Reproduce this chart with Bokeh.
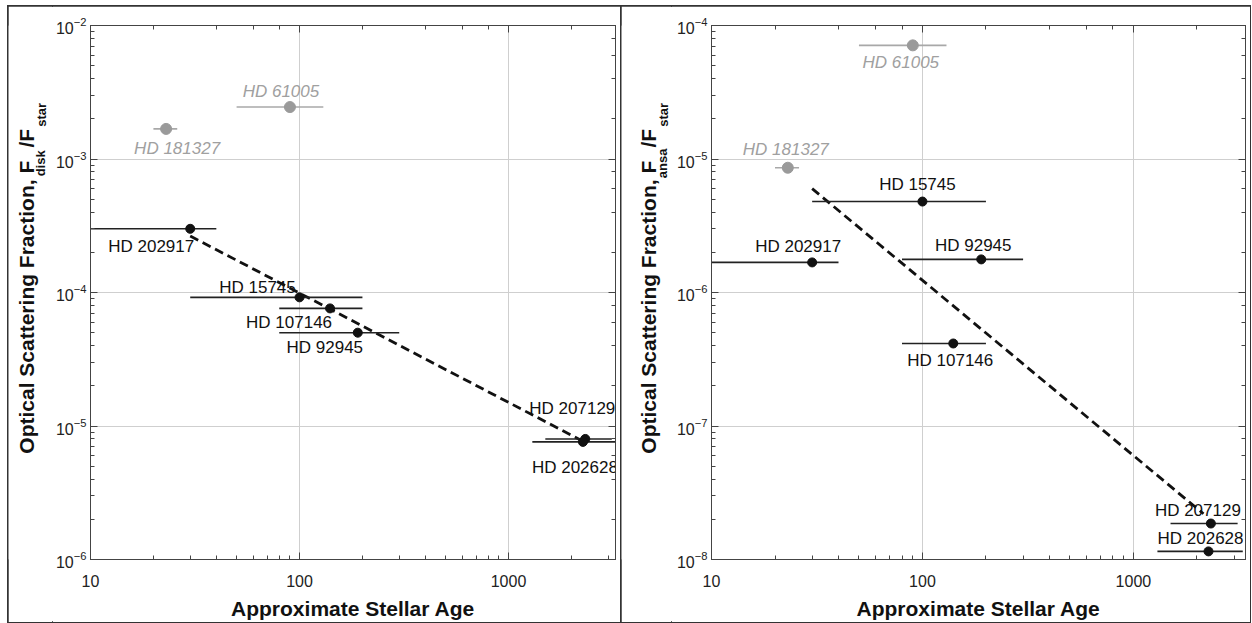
import math
from bokeh.plotting import figure
from bokeh.models import (ColumnDataSource, LogAxis, Range1d,
                          NumeralTickFormatter, CustomJSTickFormatter)
from bokeh.layouts import row
from bokeh.embed import file_html
from bokeh.resources import INLINE
from bokeh.core.properties import value

# ---------------- data ----------------
names = ["HD 181327", "HD 61005", "HD 202917", "HD 15745",
         "HD 107146", "HD 92945", "HD 207129", "HD 202628"]
age = [23, 90, 30, 100, 140, 190, 2330, 2270]
age_lo = [20, 50, 10, 30, 80, 80, 1500, 1300]
age_hi = [26, 130, 40, 200, 200, 300, 3120, 3300]
f_disk = [1.68e-3, 2.45e-3, 3.0e-4, 9.2e-5, 7.6e-5, 5.0e-5, 8.0e-6, 7.6e-6]
f_ansa = [8.6e-6, 7.1e-5, 1.68e-6, 4.8e-6, 4.15e-7, 1.77e-6, 1.86e-8, 1.15e-8]
excluded = [True, True, False, False, False, False, False, False]

fit_age_disk = [30, 2300]
fit_disk = [2.65e-4, 7.6e-6]
fit_age_ansa = [30, 2150]
fit_ansa = [6.0e-6, 2.2e-8]

x_title = "Approximate Stellar Age"

# ---------------- layout (label offsets in px) ----------------
off_disk = {
    "HD 181327": (11, 20), "HD 61005": (-9, -16), "HD 202917": (-39, 18),
    "HD 15745": (-42, -10), "HD 107146": (-41, 14), "HD 92945": (-33, 15),
    "HD 207129": (-13, -30), "HD 202628": (-8, 26),
}
off_ansa = {
    "HD 181327": (-2, -18), "HD 61005": (-12, 17), "HD 202917": (-14, -16),
    "HD 15745": (-5, -17), "HD 107146": (-3, 17), "HD 92945": (-8, -14),
    "HD 207129": (-13, -13), "HD 202628": (-8, -13),
}

FONT = value("Liberation Sans")
H = 616


def style_axis(ax, show_labels=True):
    ax.axis_line_color = "#444"
    ax.axis_line_width = 1
    ax.major_tick_in = 7
    ax.major_tick_out = 0
    ax.minor_tick_in = 4
    ax.minor_tick_out = 0
    ax.major_tick_line_color = "#444"
    ax.minor_tick_line_color = "#444"
    ax.major_label_text_font = "Liberation Sans"
    ax.major_label_text_color = "#222"
    if show_labels:
        ax.major_label_text_font_size = "16px"
    else:
        ax.formatter = CustomJSTickFormatter(code="return ''")
        ax.major_label_text_font_size = "1px"
        ax.major_label_text_alpha = 0
        ax.major_label_standoff = 0


def title_strip(sub, tw, frame_left):
    t = figure(width=tw, height=H, x_range=Range1d(0, tw), y_range=Range1d(0, H),
               output_backend="svg", toolbar_location=None,
               x_axis_location=None, y_axis_location=None,
               min_border=0, min_border_left=0, min_border_right=0,
               min_border_top=0, min_border_bottom=0,
               background_fill_color="white", border_fill_color="white")
    t.outline_line_color = None
    t.grid.grid_line_color = None
    # (text, font px, centre offset from plot frame's left edge, centre height)
    pieces = [
        ("Optical Scattering Fraction, F", 21, -63, 291),
        (sub, 13, -49, 457),
        ("/F", 21, -63, 486),
        ("star", 13, -48, 513),
    ]
    for txt, fs, dx, yc in pieces:
        t.text(x=[frame_left + dx], y=[yc], text=[txt], angle=math.pi / 2,
               text_align="center", text_baseline="middle",
               text_font=FONT, text_font_style="bold",
               text_font_size=f"{fs}px", text_color="#111")
    return t


def make_panel(width, bl, br, xmax, ylo, yhi, flux, fit_x, fit_y, offsets):
    p = figure(width=width, height=H, x_axis_type="log", y_axis_type="log",
               x_range=Range1d(10, xmax), y_range=Range1d(ylo, yhi),
               output_backend="svg", toolbar_location=None,
               min_border_left=bl, min_border_right=br,
               min_border_top=19, min_border_bottom=63,
               background_fill_color="white", border_fill_color="white")
    p.outline_line_color = "#444"
    p.grid.grid_line_color = "#cfcfcf"
    p.grid.grid_line_width = 1

    xa = p.xaxis[0]
    style_axis(xa)
    xa.formatter = NumeralTickFormatter(format="0")
    xa.major_label_standoff = 15
    xa.axis_label = x_title
    xa.axis_label_text_font = "Liberation Sans"
    xa.axis_label_text_font_style = "bold"
    xa.axis_label_text_font_size = "21px"
    xa.axis_label_text_color = "#111"
    xa.axis_label_standoff = 7

    ya = p.yaxis[0]
    style_axis(ya)
    ya.major_label_standoff = 4

    top = LogAxis()
    style_axis(top, show_labels=False)
    p.add_layout(top, "above")
    right = LogAxis()
    style_axis(right, show_labels=False)
    p.add_layout(right, "right")

    grey_idx = [i for i in range(len(names)) if excluded[i]]
    blk_idx = [i for i in range(len(names)) if not excluded[i]]

    def src(idx):
        return ColumnDataSource(dict(
            name=[names[i] for i in idx],
            age=[age[i] for i in idx],
            lo=[age_lo[i] for i in idx],
            hi=[age_hi[i] for i in idx],
            f=[flux[i] for i in idx],
            dx=[offsets[names[i]][0] for i in idx],
            dy=[offsets[names[i]][1] for i in idx],
        ))

    sg = src(grey_idx)
    sb = src(blk_idx)

    p.line(fit_x, fit_y, line_color="#111", line_width=2.8, line_dash="9 5")

    p.segment(x0="lo", y0="f", x1="hi", y1="f", source=sg,
              line_color="#a8a8a8", line_width=1.6)
    p.segment(x0="lo", y0="f", x1="hi", y1="f", source=sb,
              line_color="#222", line_width=1.6)
    p.scatter("age", "f", source=sg, size=11, fill_color="#9a9a9a",
              line_color="#9a9a9a")
    p.scatter("age", "f", source=sb, size=9, fill_color="#111",
              line_color="#111")
    p.text("age", "f", text="name", source=sg, x_offset="dx", y_offset="dy",
           text_align="center", text_baseline="middle", text_font=FONT,
           text_font_size="17px", text_font_style="italic",
           text_color="#a0a0a0")
    p.text("age", "f", text="name", source=sb, x_offset="dx", y_offset="dy",
           text_align="center", text_baseline="middle", text_font=FONT,
           text_font_size="17px", text_color="#111")
    return p


# left panel: 613 px wide, frame starts 81 px in; right: 629 px, frame 90 px in
TW1, TW2 = 44, 50
t1 = title_strip("disk", TW1, 81)
p1 = make_panel(613 - TW1, 81 - TW1, 6, 3250, 1e-6, 1e-2, f_disk,
                fit_age_disk, fit_disk, off_disk)
t2 = title_strip("ansa", TW2, 90)
p2 = make_panel(629 - TW2, 90 - TW2, 5, 3400, 1e-8, 1e-4, f_ansa,
                fit_age_ansa, fit_ansa, off_ansa)

box = {"outline": "2px solid #333", "outline-offset": "-1px"}
left = row(t1, p1, styles=box)
right_ = row(t2, p2, styles=box)
layout = row(left, right_, styles={"margin-left": "8px", "margin-top": "6px"})
open("out.html", "w").write(file_html(layout, INLINE))
